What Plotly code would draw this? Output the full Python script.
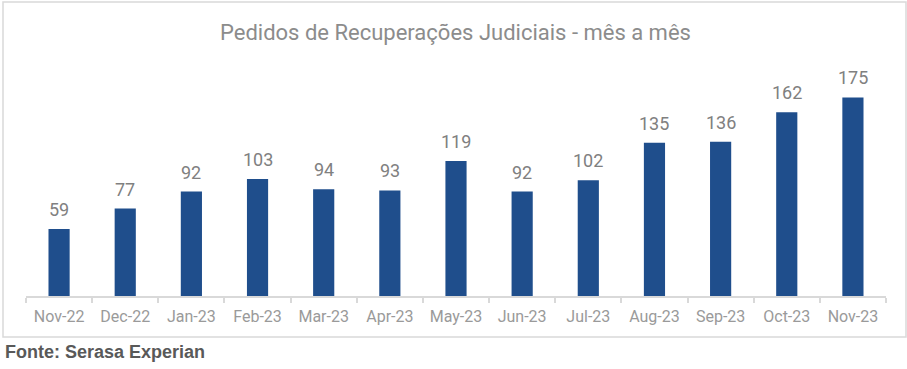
import plotly.graph_objects as go

months = ["Nov-22", "Dec-22", "Jan-23", "Feb-23", "Mar-23", "Apr-23", "May-23",
          "Jun-23", "Jul-23", "Aug-23", "Sep-23", "Oct-23", "Nov-23"]
pedidos = [59, 77, 92, 103, 94, 93, 119, 92, 102, 135, 136, 162, 175]

title_text = "Pedidos de Recuperações Judiciais - mês a mês"
source_text = "Fonte: Serasa Experian"

W, H = 907, 369
L, R, T, B = 26, 21, 69, 73
pw, ph = W - L - R, H - T - B

def px_x(x):
    return (x - L) / pw

def px_y(y):
    return (H - B - y) / ph

fig = go.Figure()
fig.add_trace(go.Bar(
    x=months, y=pedidos,
    marker=dict(color="#1F4E8C", line=dict(width=0)),
    width=0.32,
    hoverinfo="x+y",
))

for m, v in zip(months, pedidos):
    fig.add_annotation(x=m, y=v, text=str(v), showarrow=False,
                       yanchor="bottom", yshift=7,
                       font=dict(family="Roboto", size=18, color="#808080"))

fig.add_shape(type="rect", xref="paper", yref="paper",
              x0=px_x(3), x1=px_x(906), y0=px_y(337), y1=px_y(2),
              line=dict(color="#d9d9d9", width=1.5), layer="below")

fig.add_annotation(xref="paper", yref="paper", x=px_x(455), y=px_y(32),
                   text=title_text, showarrow=False, xanchor="center", yanchor="middle",
                   font=dict(family="Roboto", size=22, color="#8c8c8c"))

fig.add_annotation(xref="paper", yref="paper", x=px_x(3), y=px_y(352),
                   text="<b>" + source_text + "</b>", showarrow=False,
                   xanchor="left", yanchor="middle",
                   font=dict(family="Liberation Sans", size=18, color="#595959"))

fig.update_layout(
    width=W, height=H,
    margin=dict(l=L, r=R, t=T, b=B),
    paper_bgcolor="white", plot_bgcolor="white",
    showlegend=False,
    bargap=0.68,
    xaxis=dict(type="category", showline=True, linecolor="#d9d9d9", linewidth=1.5,
               ticks="outside", tickson="boundaries", ticklen=5, tickcolor="#d9d9d9",
               tickwidth=1.5, showgrid=False, ticklabelstandoff=5,
               tickfont=dict(family="Roboto", size=16, color="#9a9a9a")),
    yaxis=dict(range=[0, 200], visible=False, showgrid=False, zeroline=False),
)

fig.write_html("out.html", config={"displayModeBar": False},
               post_script="document.body.style.margin='0px';")
